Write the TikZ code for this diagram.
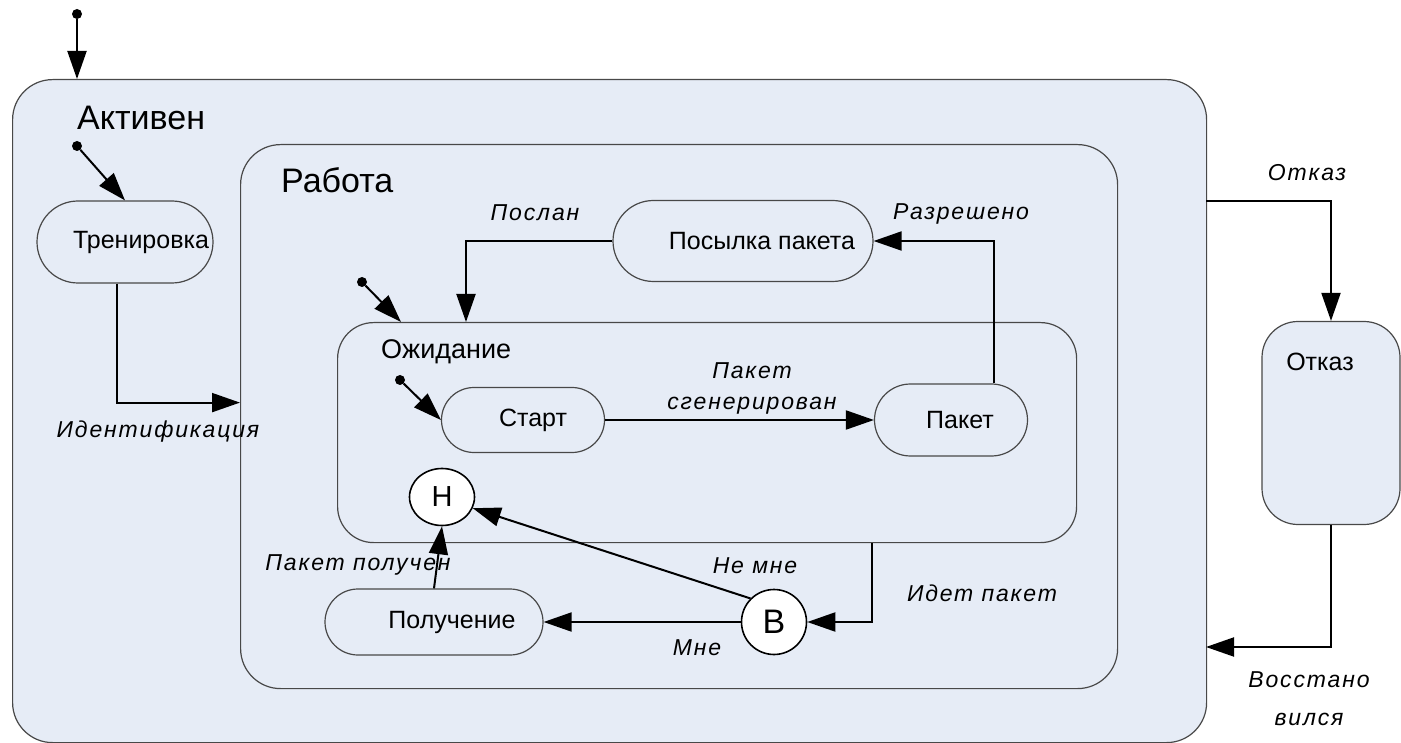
\documentclass[tikz,border=0pt]{standalone}
\usepackage{fontspec}
\setmainfont{Liberation Sans}
\newfontfamily\guardfont[LetterSpace=8]{Liberation Sans}
\usetikzlibrary{arrows.meta, shapes.misc, shapes.geometric}
\definecolor{panel}{RGB}{230,236,246}
\definecolor{edgegray}{RGB}{72,72,72}
\newcommand\statefont{\fontsize{25}{30}\selectfont}
\tikzset{
  region/.style={
    draw=edgegray, fill=panel, line width=1.2pt,
    rounded corners=40pt, anchor=north west, inner sep=0pt
  },
  state/.style={
    rounded rectangle, draw=edgegray, fill=panel,
    line width=1.2pt, inner sep=0pt
  },
  pseudo/.style={ellipse, draw=black, fill=white, line width=1.6pt, inner sep=0pt},
  initdot/.style={circle, fill=black, minimum size=10pt, inner sep=0pt},
  flow/.style={-{Triangle[length=28pt, width=19pt]}, line width=2pt, black},
  guard/.style={font=\guardfont\itshape\fontsize{23}{27}\selectfont, align=center},
  heading/.style={anchor=west, inner sep=0pt},
  every label/.style={font=\statefont}
}

\begin{document}
\begin{tikzpicture}[x=1pt, y=-1pt]
  \useasboundingbox (0,0) rectangle (1401,743);
  \node[region, minimum width=1194pt, minimum height=663pt] (aktiv) at (12,79) {};
  \node[region, minimum width=877pt, minimum height=544pt] (rabota) at (240,144) {};
  \node[region, rounded corners=36pt, minimum width=739pt, minimum height=220pt] (ozhid) at (337,322) {};
  \node[heading, font=\fontsize{34}{40}\selectfont] (aktiv-name) at (77,118) {Активен};
  \node[heading, font=\fontsize{34}{40}\selectfont] (rabota-name) at (281,180) {Работа};
  \node[heading, font=\fontsize{27}{32}\selectfont] (ozhid-name) at (381,352) {Ожидание};

  \node[state, minimum width=176pt, minimum height=82pt, label={[xshift=16pt]center:Тренировка}] (trening) at (125,242) {};
  \node[state, minimum width=260pt, minimum height=81pt, label={[xshift=19pt]center:Посылка пакета}] (posylka) at (743,241) {};
  \node[state, minimum width=163pt, minimum height=65pt, label={[xshift=10pt]center:Старт}] (start) at (523,420) {};
  \node[state, minimum width=153pt, minimum height=72pt, label={[xshift=9pt]center:Пакет}] (paket) at (951,420) {};
  \node[state, minimum width=218pt, minimum height=66pt, label={[xshift=18pt]center:Получение}] (poluch) at (434,622) {};
  \node[state, rectangle, rounded corners=36pt, minimum width=138pt, minimum height=203pt,
        label={[xshift=-11pt, yshift=61pt]center:Отказ}] (otkaz) at (1331,423) {};

  \node[pseudo, minimum width=65pt, minimum height=57pt, font=\fontsize{29}{33}\selectfont] (hist) at (442,497) {H};
  \node[pseudo, circle, minimum size=65pt, font=\fontsize{34}{38}\selectfont] (vetv) at (774,622) {B};

  \node[initdot] (i0) at (77,14) {};
  \node[initdot] (i1) at (77,146) {};
  \node[initdot] (i2) at (362,282) {};
  \node[initdot] (i3) at (400,380) {};
  \coordinate (ozhid-init) at (401,322);
  \coordinate (ozhid-in) at (466,322);
  \coordinate (aktiv-out) at (1206,201);
  \coordinate (aktiv-back) at (1206,647);

  \draw[flow] (i0) -- (i0 |- aktiv.north);
  \draw[flow] (i1) -- (trening.north);
  \draw[flow] (i2) -- (ozhid-init);
  \draw[flow] (i3) -- (start.west);
  \draw[flow] ([xshift=-8pt]trening.south) |- ([yshift=14pt]rabota.west);
  \draw[flow] (posylka.west) -| (ozhid-in);
  \draw[flow] (start.east) -- (paket.west);
  \draw[flow] ([xshift=43pt]paket.north) |- (posylka.east);
  \draw[flow] ([xshift=165pt]ozhid.south) |- (vetv.east);
  \draw[flow] (vetv.west) -- (poluch.east);
  \draw[flow] (vetv.north west) -- (hist.-20);
  \draw[flow] (poluch.north) -- (hist.south);
  \draw[flow] (aktiv-out) -| (otkaz.north);
  \draw[flow] (otkaz.south) |- (aktiv-back);

  \node[guard] (g-ident) at (158,432) {Идентификация};
  \node[guard] (g-poslan) at (535,213) {Послан};
  \node[guard] (g-razr) at (961,214) {Разрешено};
  \node[guard] (g-gen) at (752,388) {Пакет\\[4pt]сгенерирован};
  \node[guard] (g-nemne) at (755,566) {Не мне};
  \node[guard] (g-mne) at (697,648) {Мне};
  \node[guard] (g-polu) at (358,565) {Пакет получен};
  \node[guard] (g-idet) at (982,593) {Идет пакет};
  \node[guard] (g-otkaz) at (1307,173) {Отказ};
  \node[guard] (g-vosst) at (1309,699) {Восстано\\[11pt]вился};
\end{tikzpicture}
\end{document}
